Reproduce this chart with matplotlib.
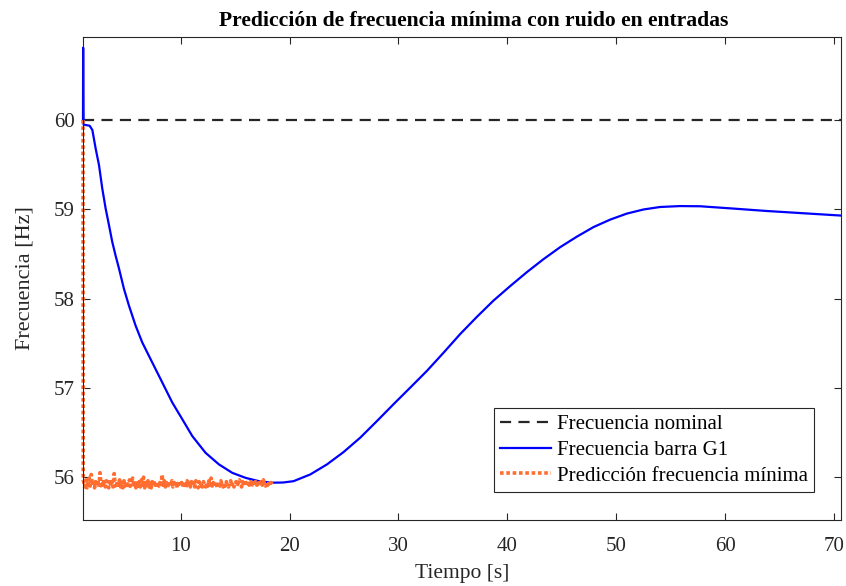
import matplotlib
matplotlib.use("Agg")
import matplotlib.pyplot as plt
import numpy as np

plt.rcParams['font.family'] = ['Liberation Serif', 'DejaVu Serif']

# Data
nominal_t = [1.04, 70.6]
nominal_f = [60.0, 60.0]

g1_t = [1.04, 1.055, 1.07, 1.09, 1.28, 1.65, 1.90, 2.20, 2.51, 2.81, 3.12, 3.43, 3.73, 4.03,
        4.35, 4.80, 5.26, 5.87, 6.48, 7.40, 8.32, 9.24, 10.16, 11.07, 12.29, 13.52, 14.75,
        15.97, 17.20, 18.40, 19.40, 20.37, 21.90, 23.44, 24.95, 26.49, 28.00, 29.55, 31.10,
        32.62, 34.15, 35.67, 37.20, 38.73, 40.26, 41.79, 43.30, 44.85, 46.40, 47.91, 49.45,
        50.97, 52.50, 54.03, 55.85, 57.70, 60.76, 63.82, 66.88, 70.6]
g1_f = [60.0, 60.81, 60.3, 59.95, 59.944, 59.936, 59.888, 59.682, 59.494, 59.233, 59.008,
        58.820, 58.633, 58.483, 58.334, 58.109, 57.921, 57.697, 57.509, 57.284, 57.060,
        56.835, 56.648, 56.461, 56.273, 56.143, 56.048, 55.992, 55.955, 55.938, 55.940,
        55.955, 56.030, 56.143, 56.280, 56.442, 56.625, 56.817, 57.005, 57.191, 57.395,
        57.603, 57.795, 57.978, 58.140, 58.296, 58.440, 58.576, 58.695, 58.801, 58.885,
        58.952, 58.998, 59.026, 59.036, 59.034, 59.008, 58.981, 58.958, 58.930]

pred_t_start = [1.04, 1.06]
pred_f_start = [60.0, 55.96]
pred_t_noise = np.round(np.arange(1.1, 18.45, 0.1), 2)
pred_f_noise = [
    55.95, 55.89, 55.97, 55.88, 55.94, 55.99, 55.90, 56.03, 55.91, 55.97,
    55.88, 55.95, 55.90, 55.97, 55.89, 56.05, 55.92, 55.88, 55.97, 55.91,
    55.89, 55.96, 55.91, 55.88, 55.97, 55.90, 55.95, 55.89, 56.04, 55.92,
    55.88, 55.96, 55.91, 55.97, 55.89, 55.94, 55.88, 55.96, 55.90, 55.95,
    55.91, 55.88, 55.97, 55.90, 55.95, 55.99, 55.89, 55.94, 55.88, 55.96,
    55.90, 55.95, 55.89, 55.97, 55.91, 56.00, 55.88, 55.94, 55.90, 55.96,
    55.89, 55.94, 55.88, 55.95, 55.90, 55.96, 55.91, 55.88, 55.95, 55.90,
    55.94, 55.89, 56.03, 55.91, 55.96, 55.89, 55.94, 55.88, 55.95, 55.90,
    55.91, 55.96, 55.89, 55.94, 55.90, 55.95, 55.88, 55.93, 55.96, 55.90,
    55.94, 55.89, 55.95, 55.91, 55.88, 55.96, 55.90, 55.94, 55.89, 55.95,
    55.90, 55.94, 55.89, 55.96, 55.91, 55.88, 55.95, 55.90, 55.94, 55.89,
    55.95, 55.91, 55.89, 55.94, 55.90, 55.96, 55.91, 55.99, 55.90, 55.94,
    55.89, 55.95, 55.91, 55.88, 55.94, 55.90, 55.96, 55.91, 55.89, 55.94,
    55.90, 55.95, 55.91, 55.89, 55.94, 55.96, 55.90, 55.94, 55.89, 55.93,
    55.95, 55.90, 55.94, 55.97, 55.91, 55.89, 55.95, 55.90, 55.97, 55.92,
    55.90, 55.96, 55.91, 55.95, 55.89, 55.94, 55.96, 55.90, 55.95, 55.91,
    55.92, 55.96, 55.90, 55.95, 55.91, 55.97, 55.92, 55.90, 55.95, 55.91,
    55.95, 55.91, 55.94, 55.92]

xticks = [10, 20, 30, 40, 50, 60, 70]
yticks = [56, 57, 58, 59, 60]

pred_t = list(pred_t_start) + list(pred_t_noise)
pred_f = list(pred_f_start) + list(pred_f_noise)

fig = plt.figure(figsize=(8.46, 5.86), dpi=100)
ax = fig.add_axes([0.0981, 0.1126, 0.8956, 0.8243])

ax.plot(nominal_t, nominal_f, linestyle=(0, (5, 3.3)), color='#262626', lw=1.6,
        label='Frecuencia nominal')
ax.plot(g1_t, g1_f, color='#0000FF', lw=1.6, label='Frecuencia barra G1', clip_on=False)
ax.plot(pred_t, pred_f, linestyle=(0, (1, 0.75)), color='#FF6E30', lw=2.6,
        label='Predicción frecuencia mínima', clip_on=False)

ax.set_xlim(1.04, 70.6)
ax.set_ylim(55.52, 60.93)
ax.set_xticks(xticks)
ax.set_yticks(yticks)
ax.tick_params(direction='in', top=True, right=True, length=5, width=0.8,
               labelsize=15, colors='#262626')
ax.tick_params(axis='x', pad=12)
ax.tick_params(axis='y', pad=6)
for s in ax.spines.values():
    s.set_color('#262626')
    s.set_linewidth(0.8)

ax.set_title('Predicción de frecuencia mínima con ruido en entradas', fontsize=15.6,
             fontweight='bold', pad=8, x=0.516)
ax.set_xlabel('Tiempo [s]', fontsize=15.5, labelpad=6, color='#262626')
ax.set_ylabel('Frecuencia [Hz]', fontsize=16, labelpad=14, color='#262626')

leg = ax.legend(loc='lower right', bbox_to_anchor=(0.9647, 0.058), fontsize=15,
                frameon=True, fancybox=False, edgecolor='#262626', framealpha=1,
                handlelength=2.45, handletextpad=0.25, borderpad=0.3, labelspacing=0.3,
                borderaxespad=0)
leg.get_frame().set_linewidth(0.8)

fig.savefig('out.png', dpi=100)
